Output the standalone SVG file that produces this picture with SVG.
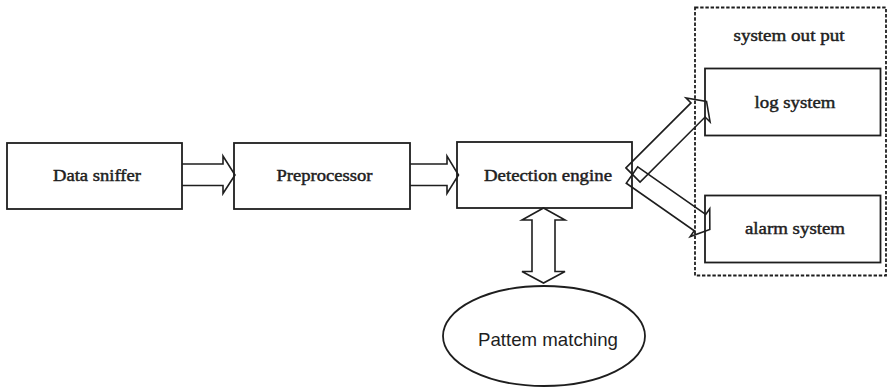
<svg xmlns="http://www.w3.org/2000/svg" width="889" height="388" viewBox="0 0 889 388">
  <defs>
    <style>
      .box { fill: #ffffff; stroke: #1e1e1e; stroke-width: 1.8; }
      .group { fill: none; stroke: #1e1e1e; stroke-width: 1.8; stroke-dasharray: 3.4 1.8; }
      .arrow { fill: none; stroke: #1e1e1e; stroke-width: 1.6; stroke-linejoin: miter; }
      .lbl { font-family: "Liberation Serif", "Times New Roman", serif; font-size: 16.5px; fill: #1e1e1e; stroke: #1e1e1e; stroke-width: 0.45; text-anchor: middle; }
      .sans { font-family: "Liberation Sans", Arial, sans-serif; font-size: 18.5px; fill: #1e1e1e; text-anchor: middle; }
    </style>
  </defs>

  <!-- output group frame -->
  <g id="system-output">
    <rect class="group" x="695" y="7.5" width="191" height="268"/>
    <text class="lbl" x="789" y="41" textLength="111" lengthAdjust="spacingAndGlyphs">system out put</text>
  </g>

  <g id="data-sniffer">
    <rect class="box" x="7" y="143" width="175" height="66"/>
    <text class="lbl" x="97" y="181" textLength="88" lengthAdjust="spacingAndGlyphs">Data sniffer</text>
  </g>

  <g id="preprocessor">
    <rect class="box" x="234" y="143" width="176" height="66"/>
    <text class="lbl" x="324.5" y="181" textLength="96" lengthAdjust="spacingAndGlyphs">Preprocessor</text>
  </g>

  <g id="detection-engine">
    <rect class="box" x="457" y="142" width="175" height="66"/>
    <text class="lbl" x="548" y="181" textLength="128" lengthAdjust="spacingAndGlyphs">Detection engine</text>
  </g>

  <g id="log-system">
    <rect class="box" x="705" y="68.5" width="175.5" height="67"/>
    <text class="lbl" x="795" y="108" textLength="81" lengthAdjust="spacingAndGlyphs">log system</text>
  </g>

  <g id="alarm-system">
    <rect class="box" x="705" y="195.5" width="175.5" height="67"/>
    <text class="lbl" x="795" y="234" textLength="100" lengthAdjust="spacingAndGlyphs">alarm system</text>
  </g>

  <g id="pattern-matching">
    <ellipse class="box" cx="544" cy="336" rx="101" ry="50"/>
    <text class="sans" x="548" y="346" textLength="140" lengthAdjust="spacingAndGlyphs">Pattem matching</text>
  </g>

  <!-- block arrows between components -->
  <g id="connectors">
    <path class="arrow" d="M182,164 H223 V156 L235,175 L223,193.5 V185.5 H182"/>
    <path class="arrow" d="M410,164 H447 V156 L458.5,175 L447,193.5 V185.5 H410"/>
    <path class="arrow" d="M543.5,208 L565,220 H555 V271.5 H565 L543.5,283 L522,271.5 H532 V220 H522 Z"/>
    <!-- fan-out to output systems, drawn along a local x axis -->
    <path class="arrow" transform="translate(633,175) rotate(-45)" d="M0,-10 H92 V-17 L104,0 L92,17 V10 H0 Z"/>
    <path class="arrow" transform="translate(632,175) rotate(35)" d="M0,-10 H83 V-17 L95,0 L83,17 V10 H0 Z"/>
  </g>
</svg>
